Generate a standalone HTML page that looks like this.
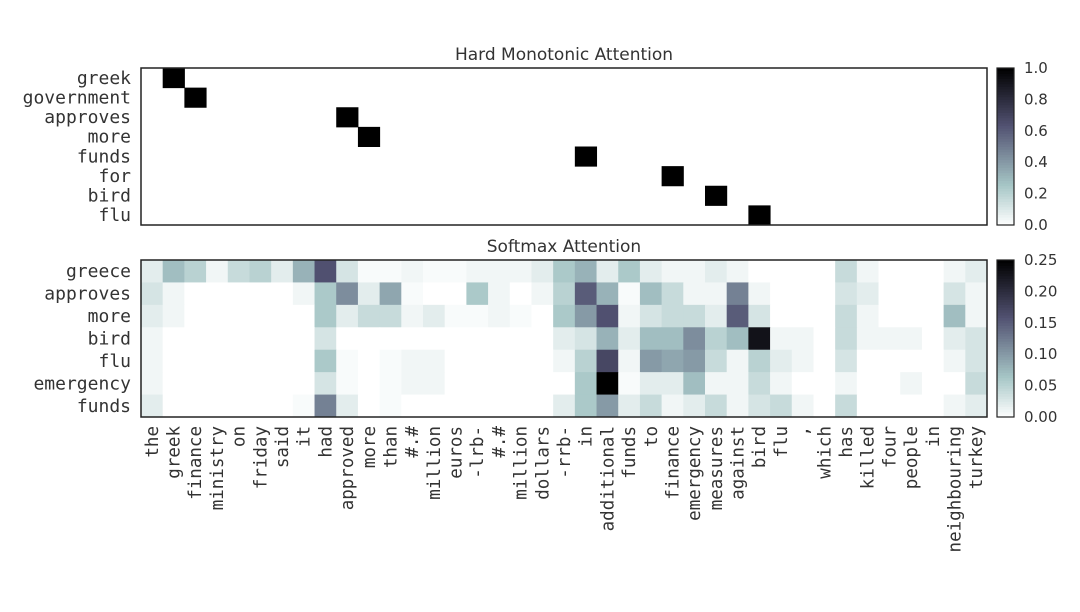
<!DOCTYPE html>
<html><head><meta charset="utf-8"><style>
body{margin:0;background:#fff;}
svg text{fill:#333;}
</style></head><body>
<svg id="c" width="1080" height="607" xmlns="http://www.w3.org/2000/svg"></svg>
<script>
const xTokens=["the","greek","finance","ministry","on","friday","said","it","had","approved","more","than","#.#","million","euros","-lrb-","#.#","million","dollars","-rrb-","in","additional","funds","to","finance","emergency","measures","against","bird","flu",",","which","has","killed","four","people","in","neighbouring","turkey"];
const hardRows=["greek","government","approves","more","funds","for","bird","flu"];
const hardCols=[1,2,9,10,20,24,26,28];
const softRows=["greece","approves","more","bird","flu","emergency","funds"];
const soft0=[0.02,0.07,0.05,0.01,0.04,0.05,0.02,0.08,0.16,0.03,0.005,0.005,0.01,0.005,0.005,0.01,0.01,0.01,0.02,0.06,0.08,0.02,0.06,0.02,0.01,0.01,0.02,0.01,0,0,0,0,0.04,0.01,0,0,0,0.01,0.02];
const soft1=[0.03,0.01,0,0,0,0,0,0.01,0.06,0.11,0.02,0.09,0.005,0,0,0.06,0.01,0,0.01,0.05,0.15,0.08,0.005,0.07,0.04,0.01,0.01,0.12,0.01,0,0,0,0.03,0.02,0,0,0,0.03,0.01];
const soft2=[0.02,0.01,0,0,0,0,0,0,0.06,0.02,0.04,0.04,0.01,0.02,0.005,0.005,0.01,0.005,0,0.06,0.1,0.16,0.01,0.03,0.04,0.04,0.02,0.15,0.03,0,0,0,0.04,0.01,0,0,0,0.07,0.01];
const soft3=[0.01,0,0,0,0,0,0,0,0.03,0,0,0,0,0,0,0,0,0,0,0.02,0.03,0.08,0.02,0.07,0.07,0.11,0.05,0.07,0.23,0.01,0.01,0,0.04,0.01,0.01,0.01,0,0.02,0.03];
const soft4=[0.01,0,0,0,0,0,0,0,0.06,0.005,0,0.005,0.01,0.01,0,0,0,0,0,0.01,0.05,0.17,0.01,0.1,0.09,0.1,0.04,0.01,0.05,0.02,0.01,0,0.03,0,0,0,0,0.01,0.03];
const soft5=[0.01,0,0,0,0,0,0,0,0.03,0.005,0,0.005,0.01,0.01,0,0,0,0,0,0,0.06,0.25,0.005,0.02,0.02,0.07,0.01,0.01,0.04,0.01,0,0,0.01,0,0,0.01,0,0,0.04];
const soft6=[0.02,0,0,0,0,0,0,0.005,0.12,0.02,0,0.005,0,0,0,0,0,0,0,0.02,0.06,0.1,0.02,0.04,0.01,0.02,0.04,0.01,0.03,0.04,0.01,0,0.04,0,0,0,0,0.01,0.02];
const softVals=[soft0,soft1,soft2,soft3,soft4,soft5,soft6];
const hardTicks=["0.0","0.2","0.4","0.6","0.8","1.0"];
const softTicks=["0.00","0.05","0.10","0.15","0.20","0.25"];

const NS="http://www.w3.org/2000/svg";
const svg=document.getElementById('c');
function mk(t,a,p){const e=document.createElementNS(NS,t);for(const k in a)e.setAttribute(k,a[k]);(p||svg).appendChild(e);return e;}
function interp(pts,x){for(let i=1;i<pts.length;i++){if(x<=pts[i][0]){const a=pts[i-1],b=pts[i];return a[1]+(b[1]-a[1])*(x-a[0])/(b[0]-a[0]);}}return pts[pts.length-1][1];}
function boneR(v){v=Math.max(0,Math.min(1,v));const x=1-v;
 const r=interp([[0,0],[0.746032,0.652778],[1,1]],x),g=interp([[0,0],[0.365079,0.319444],[0.746032,0.777778],[1,1]],x),b=interp([[0,0],[0.365079,0.444444],[1,1]],x);
 return `rgb(${Math.round(r*255)},${Math.round(g*255)},${Math.round(b*255)})`;}
const L=141,R=987,W=R-L,nc=xTokens.length,cw=W/nc;
const xPos=i=>L+i*cw;
const font='"DejaVu Sans Mono","Liberation Mono",monospace';
const sans='"DejaVu Sans","Liberation Sans",sans-serif';

function panel(top,bot,rows,title,name){
 const rh=(bot-top)/rows.length;
 const g=mk('g',{});
 
 
 const t=mk('text',{x:(L+R)/2,y:top-8,'text-anchor':'middle','font-family':sans,'font-size':17},g);t.textContent=title;
 
 rows.forEach((r,i)=>{const e=mk('text',{x:131,y:top+rh*i+rh/2+6,'text-anchor':'end','font-family':font,'font-size':18},g);e.textContent=r;
  });
 return {g,rh};
}
const tp=panel(68,225,hardRows,"Hard Monotonic Attention","hard-attention-panel");
hardCols.forEach((c,i)=>{const e=mk('rect',{x:xPos(c),y:68+i*tp.rh,width:cw+0.5,height:tp.rh+0.5,fill:boneR(1)},tp.g);
 });
mk('rect',{x:L,y:68,width:W,height:157,fill:'none',stroke:'#222','stroke-width':1.5},tp.g);
const bp=panel(260,417,softRows,"Softmax Attention","softmax-attention-panel");
softVals.forEach((row,ri)=>row.forEach((v,ci)=>{const e=mk('rect',{x:xPos(ci),y:260+ri*bp.rh,width:cw+0.5,height:bp.rh+0.5,fill:boneR(v/0.25)},bp.g);
 }));
mk('rect',{x:L,y:260,width:W,height:157,fill:'none',stroke:'#222','stroke-width':1.5},bp.g);
xTokens.forEach((t,i)=>{const cx=xPos(i)+cw/2+6;const e=mk('text',{x:0,y:0,'text-anchor':'end','font-family':font,'font-size':17.5,transform:`translate(${cx},426) rotate(-90)`});e.textContent=t;
 });
function cbar(top,bot,ticks,name){
 const g=mk('g',{});
 const n=60,h=(bot-top)/n;
 for(let i=0;i<n;i++)mk('rect',{x:997,y:bot-(i+1)*h,width:17,height:h+0.5,fill:boneR((i+0.5)/n)},g);
 mk('rect',{x:997,y:top,width:17,height:bot-top,fill:'none',stroke:'#222','stroke-width':1.2},g);
 ticks.forEach((t,i)=>{const y=bot-(bot-top)*i/(ticks.length-1);const e=mk('text',{x:1024,y:y+5,'font-family':sans,'font-size':15},g);e.textContent=t;
  });
}
cbar(68,225,hardTicks,'hard-colorbar');
cbar(260,417,softTicks,'softmax-colorbar');
</script>
</body></html>
